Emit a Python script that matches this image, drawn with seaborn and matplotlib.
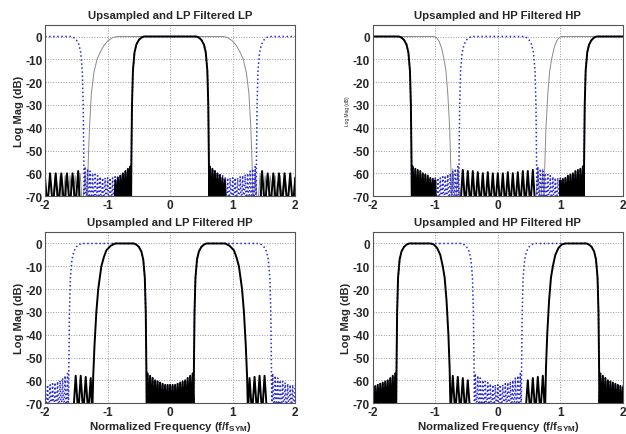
import numpy as np
import pandas as pd
import matplotlib
matplotlib.use("Agg")
import matplotlib.pyplot as plt
import seaborn as sns

# Spectra: positive half only (f >= 0, dB),
# the curves are symmetric so they get mirrored when drawn.
# Ripple nulls go below the axis (-75) and are clipped like in the original.

# blue dotted, top row: upsampled LP spectrum (passband at 0 and images at +-2)
lp_img_f = [0, 0.42, 0.46, 0.50, 0.54, 0.57, 0.595, 0.61, 0.62, 0.625,
            0.64, 0.66, 0.68, 0.70, 0.72, 0.74, 0.76, 0.78, 0.80, 0.82,
            0.84, 0.86, 0.88, 0.90, 0.92, 0.94, 0.96, 0.98, 1.00, 1.02,
            1.04, 1.06, 1.08, 1.10, 1.12, 1.14, 1.16, 1.18, 1.20, 1.22,
            1.24, 1.26, 1.28, 1.30, 1.32, 1.34, 1.36,
            1.375, 1.38, 1.39, 1.405, 1.43, 1.46, 1.50, 1.54, 1.58, 2.0]
lp_img_db = [0, 0, -0.5, -1.5, -3.5, -7, -15, -30, -55, -75,
             -57, -75, -58, -75, -59, -75, -60, -75, -60.5, -75,
             -61, -75, -61.5, -75, -62, -75, -62, -75, -62, -75,
             -62, -75, -62, -75, -61.5, -75, -61, -75, -60.5, -75,
             -60, -75, -59, -75, -58, -75, -57,
             -75, -55, -30, -15, -7, -3.5, -1.5, -0.5, 0, 0]

# blue dotted, bottom row: upsampled HP spectrum
hp_img_f = [0, 0.02, 0.04, 0.06, 0.08, 0.10, 0.12, 0.14, 0.16, 0.18,
            0.20, 0.22, 0.24, 0.26, 0.28, 0.30, 0.32, 0.34, 0.36,
            0.375, 0.38, 0.39, 0.405, 0.43, 0.46, 0.50, 0.54, 0.58,
            1.42, 1.46, 1.50, 1.54, 1.57, 1.595, 1.61, 1.62, 1.625,
            1.64, 1.66, 1.68, 1.70, 1.72, 1.74, 1.76, 1.78, 1.80, 1.82,
            1.84, 1.86, 1.88, 1.90, 1.92, 1.94, 1.96, 1.98, 2.0]
hp_img_db = [-62, -75, -62, -75, -62, -75, -61.5, -75, -61, -75,
             -60.5, -75, -60, -75, -59, -75, -58, -75, -57,
             -75, -55, -30, -15, -7, -3.5, -1.5, -0.5, 0,
             0, -0.5, -1.5, -3.5, -7, -15, -30, -55, -75,
             -57, -75, -58, -75, -59, -75, -60, -75, -60.5, -75,
             -61, -75, -61.5, -75, -62, -75, -62, -75, -62]

# thin gray: interpolation filters (LP in panel 1, HP in panel 2)
gray_lp_f = [0, 0.85, 0.92, 1.0, 1.06, 1.12, 1.17, 1.22, 1.26, 1.29, 1.31, 1.325,
             1.36, 1.40, 1.44, 1.48, 1.52, 1.56, 1.60, 1.64, 1.68, 1.72,
             1.76, 1.80, 1.84, 1.88, 1.92, 1.96, 2.0]
gray_lp_db = [0, 0, -0.5, -2, -4, -7, -10, -16, -25, -40, -55, -75,
              -60, -75, -60, -75, -61, -75, -61, -75, -61, -75,
              -61, -75, -61, -75, -61, -75, -61]

gray_hp_f = [0, 0.04, 0.08, 0.12, 0.16, 0.20, 0.24, 0.28, 0.32, 0.36,
             0.40, 0.44, 0.48, 0.52, 0.56, 0.60, 0.64, 0.68, 0.72,
             0.74, 0.75, 0.77, 0.80, 0.83, 0.86, 0.90, 0.94, 0.98, 1.02, 2.0]
gray_hp_db = [-60, -75, -60, -75, -60, -75, -59.5, -75, -60, -75,
              -59.5, -75, -59, -75, -59, -75, -58.5, -75, -58,
              -75, -58, -40, -25, -15, -10, -5, -2, -0.5, 0, 0]

# thick black: filtered results, one per panel
black1_f = [0, 0.42, 0.46, 0.50, 0.54, 0.57, 0.595, 0.61, 0.62, 0.625,
            0.635, 0.655, 0.675, 0.695, 0.715, 0.735, 0.755, 0.775, 0.795,
            0.815, 0.835, 0.855, 0.875, 0.895,
            1.44, 1.47, 1.515, 1.56, 1.605, 1.65, 1.695, 1.74, 1.785,
            1.83, 1.875, 1.92, 1.965, 2.0]
black1_db = [0, 0, -0.5, -1.5, -3.5, -7, -15, -30, -55, -75,
             -57, -75, -58, -75, -59, -75, -60, -75, -61,
             -75, -62, -75, -63, -75,
             -75, -59, -75, -60, -75, -60, -75, -60, -75,
             -60, -75, -60, -75, -62]

black2_f = [0, 0.04, 0.08, 0.12, 0.16, 0.20, 0.24, 0.28, 0.32, 0.36,
            0.40, 0.44, 0.48, 0.52, 0.56, 0.60,
            0.99, 1.00, 1.02, 1.04, 1.06, 1.08, 1.10, 1.12, 1.14, 1.16,
            1.18, 1.20, 1.22, 1.24, 1.26, 1.28, 1.30, 1.32, 1.34, 1.36,
            1.375, 1.38, 1.39, 1.405, 1.43, 1.46, 1.50, 1.54, 1.58, 2.0]
black2_db = [-60, -75, -60, -75, -59.5, -75, -60, -75, -59.5, -75,
             -59, -75, -59, -75, -58.5, -75,
             -75, -63, -75, -62.5, -75, -62, -75, -61, -75, -60.5,
             -75, -60, -75, -59, -75, -58.5, -75, -58, -75, -57,
             -75, -55, -30, -15, -7, -3.5, -1.5, -0.5, 0, 0]

black3_f = [0, 0.02, 0.04, 0.06, 0.08, 0.10, 0.12, 0.14, 0.16, 0.18,
            0.20, 0.22, 0.24, 0.26, 0.28, 0.30, 0.32, 0.34, 0.36,
            0.375, 0.38, 0.39, 0.405, 0.43, 0.46, 0.50, 0.54, 0.58,
            0.88, 0.95, 1.02, 1.06, 1.10, 1.15, 1.18, 1.21, 1.23, 1.245,
            1.27, 1.31, 1.35, 1.39, 1.43, 1.47, 1.51, 1.55, 2.0]
black3_db = [-62, -75, -62, -75, -62, -75, -61.5, -75, -61, -75,
             -60.5, -75, -60, -75, -59, -75, -58, -75, -57,
             -75, -55, -30, -15, -7, -3.5, -1.5, -0.5, 0,
             0, -1, -3, -6, -10, -20, -30, -45, -58, -75,
             -59, -75, -58.5, -75, -58, -75, -58, -75, -75]

black4_f = [0, 0.44, 0.48, 0.52, 0.56, 0.60, 0.64, 0.68, 0.72, 0.755,
            0.77, 0.79, 0.82, 0.85, 0.88, 0.92, 0.97, 1.02, 1.08,
            1.42, 1.46, 1.50, 1.54, 1.57, 1.595, 1.61, 1.62, 1.625,
            1.64, 1.66, 1.68, 1.70, 1.72, 1.74, 1.76, 1.78, 1.80, 1.82,
            1.84, 1.86, 1.88, 1.90, 1.92, 1.94, 1.96, 1.98, 2.0]
black4_db = [-75, -75, -60, -75, -59, -75, -58.5, -75, -58, -75,
             -55, -40, -25, -15, -10, -5, -2, -0.5, 0,
             0, -0.5, -1.5, -3.5, -7, -15, -30, -55, -75,
             -57, -75, -58, -75, -59, -75, -60, -75, -60.5, -75,
             -61, -75, -61.5, -75, -62, -75, -62.5, -75, -63]

titles = ["Upsampled and LP Filtered LP", "Upsampled and HP Filtered HP",
          "Upsampled and LP Filtered HP", "Upsampled and HP Filtered HP"]
x_ticks = [-2, -1, 0, 1, 2]
y_ticks = [0, -10, -20, -30, -40, -50, -60, -70]


def mirror(f, db):
    f = np.asarray(f, dtype=float)
    db = np.asarray(db, dtype=float)
    return pd.DataFrame({"f": np.r_[-f[:0:-1], f], "db": np.r_[db[:0:-1], db]})


sns.set_style("white")
plt.rcParams["font.family"] = ["Liberation Sans", "DejaVu Sans"]
plt.rcParams["axes.unicode_minus"] = False

BLUE = "#2a2ad6"
GRAY = "#8a8a8a"
BLACK = "#000000"

# (curve, colour, width, style) per panel, drawn in this order
panels = [
    [(gray_lp_f, gray_lp_db, GRAY, 0.7, "-"), (lp_img_f, lp_img_db, BLUE, 1.1, ":"),
     (black1_f, black1_db, BLACK, 1.4, "-")],
    [(gray_hp_f, gray_hp_db, GRAY, 0.7, "-"), (lp_img_f, lp_img_db, BLUE, 1.1, ":"),
     (black2_f, black2_db, BLACK, 1.4, "-")],
    [(hp_img_f, hp_img_db, BLUE, 1.1, ":"), (black3_f, black3_db, BLACK, 1.4, "-")],
    [(hp_img_f, hp_img_db, BLUE, 1.1, ":"), (black4_f, black4_db, BLACK, 1.4, "-")],
]

fig, axes = plt.subplots(2, 2, figsize=(6.26, 4.35), dpi=100)
fig.subplots_adjust(left=0.072, right=0.995, bottom=0.071, top=0.94,
                    wspace=0.31, hspace=0.21)

for i, ax in enumerate(axes.flat):
    for f, db, col, lw, ls in panels[i]:
        sns.lineplot(data=mirror(f, db), x="f", y="db", ax=ax, sort=False,
                     estimator=None, color=col, lw=lw, linestyle=ls)
    ax.set_xlim(-2, 2)
    ax.set_ylim(-70, 5)
    ax.set_xticks(x_ticks)
    ax.set_yticks(y_ticks)
    ax.grid(True, linestyle=":", color="#9a9a9a", lw=0.7)
    ax.tick_params(direction="in", length=3, labelsize=8.5, pad=2)
    for lab in ax.get_xticklabels() + ax.get_yticklabels():
        lab.set_fontweight("bold")
    for s in ax.spines.values():
        s.set_color("#555555")
        s.set_linewidth(0.8)
    ax.set_title(titles[i], fontsize=8.2, fontweight="bold", pad=5)
    ax.set_xlabel("")
    if i == 1:
        # the reference has a tiny label on this panel only
        ax.set_ylabel("Log Mag (dB)", fontsize=3.5, labelpad=2)
    else:
        ax.set_ylabel("Log Mag (dB)", fontsize=8, fontweight="bold", labelpad=1)
    if i >= 2:
        ax.set_xlabel("Normalized Frequency (f/f$_{\\mathregular{SYM}}$)",
                      fontsize=8.2, fontweight="bold", labelpad=1)

plt.savefig("out.png", dpi=100)
